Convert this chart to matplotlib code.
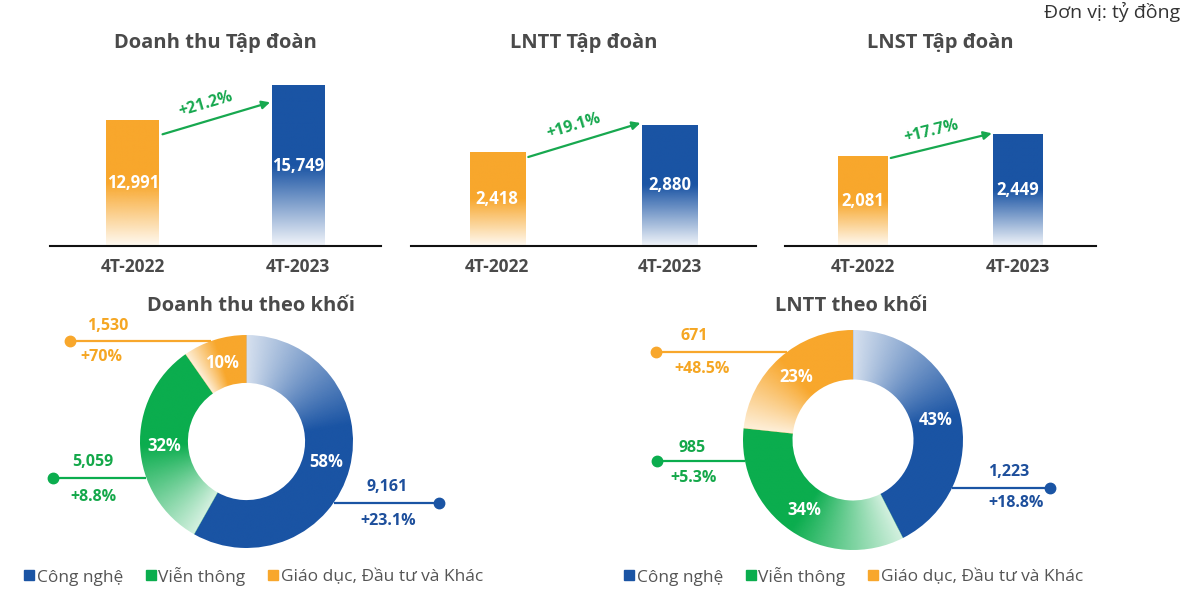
import numpy as np
import matplotlib
matplotlib.use("Agg")
import matplotlib.pyplot as plt
from matplotlib.colors import to_rgb
from matplotlib.lines import Line2D

plt.rcParams['font.family'] = ['Open Sans', 'DejaVu Sans']

# ---------------- data ----------------
periods = ["4T-2022", "4T-2023"]
bar_titles = ["Doanh thu Tập đoàn", "LNTT Tập đoàn", "LNST Tập đoàn"]
revenue = [12991, 15749]
pbt = [2418, 2880]
pat = [2081, 2449]
growth_total = ["+21.2%", "+19.1%", "+17.7%"]

segments = ["Công nghệ", "Viễn thông", "Giáo dục, Đầu tư và Khác"]
rev_seg_values = [9161, 5059, 1530]
rev_seg_pct = [58, 32, 10]
rev_seg_growth = ["+23.1%", "+8.8%", "+70%"]
pbt_seg_values = [1223, 985, 671]
pbt_seg_pct = [43, 34, 23]
pbt_seg_growth = ["+18.8%", "+5.3%", "+48.5%"]
donut_titles = ["Doanh thu theo khối", "LNTT theo khối"]
unit_label = "Đơn vị: tỷ đồng"

# ---------------- style ----------------
ORANGE = "#f8a72c"
BLUE = "#1a54a4"
GREEN = "#0bad4e"
ARROW_GREEN = "#17a84f"
TITLE = "#4a4a4a"
seg_colors = [BLUE, GREEN, ORANGE]
seg_text_colors = ["#1d4f9c", "#14a84a", "#f5a623"]

W, H = 1182, 590
fig = plt.figure(figsize=(W / 100, H / 100), dpi=100)


def box(x0, y0, x1, y1):
    return [x0 / W, 1 - y1 / H, (x1 - x0) / W, (y1 - y0) / H]


def grad_bar(ax, rect, color, ybottom):
    x, w, top = rect.get_x(), rect.get_width(), rect.get_height()
    n = 256
    t = np.linspace(0, 1, n)
    alpha = np.clip(0.06 + t / 0.5 * 0.94, 0, 1)
    rgba = np.zeros((n, 2, 4))
    rgba[..., :3] = to_rgb(color)
    rgba[..., 3] = alpha[:, None]
    im = ax.imshow(rgba, extent=[x, x + w, ybottom, top], origin="lower",
                   aspect="auto", interpolation="bilinear", zorder=2)
    im.set_clip_path(rect)
    rect.set_facecolor("none")


# ---------------- bar charts ----------------
bar_series = [revenue, pbt, pat]
bar_boxes = [(50, 60, 381, 246), (411, 60, 756, 246), (785, 60, 1096, 246)]
bar_ylims = [(3084, 17743), (809.5, 3992), (554, 3710)]
arrow_offsets_px = [(14, 17), (5, -2), (2, -1)]
bw = 0.32

for i in range(3):
    b = bar_boxes[i]
    ax = fig.add_axes(box(*b))
    vals = bar_series[i]
    xs = np.arange(len(vals))
    rects = ax.bar(xs, vals, width=bw, color="none", zorder=2)
    ax.set_xlim(-0.5, 1.5)
    ax.set_ylim(*bar_ylims[i])
    for r, c in zip(rects, [ORANGE, BLUE]):
        grad_bar(ax, r, c, bar_ylims[i][0])
    ax.set_xlim(-0.5, 1.5)
    ax.set_ylim(*bar_ylims[i])
    for s in ["top", "left", "right"]:
        ax.spines[s].set_visible(False)
    ax.spines["bottom"].set_linewidth(1.5)
    ax.spines["bottom"].set_color("#111111")
    ax.set_yticks([])
    ax.set_xticks(xs)
    ax.set_xticklabels(periods, fontsize=12.5, fontweight="bold", color=TITLE)
    ax.tick_params(axis="x", length=0, pad=9)
    for x, v in zip(xs, vals):
        ax.text(x, (v + bar_ylims[i][0]) / 2, f"{v:,}", ha="center", va="center",
                color="white", fontsize=12, fontweight="bold", zorder=4)
    ax.patch.set_alpha(0)
    fig.text(((b[0] + b[2]) / 2) / W, 1 - 43 / H, bar_titles[i], ha="center",
             va="center", fontsize=14.5, fontweight="bold", color=TITLE)
    # growth arrow
    tr = ax.transData
    x0, x1 = 0.18, 0.83
    p0 = tr.transform((x0, vals[0]))
    p1 = tr.transform((x1, vals[1]))
    p0[1] -= arrow_offsets_px[i][0]
    p1[1] -= arrow_offsets_px[i][1]
    d0 = tr.inverted().transform(p0)
    d1 = tr.inverted().transform(p1)
    ax.annotate("", xy=d1, xytext=d0,
                arrowprops=dict(arrowstyle="-|>", color=ARROW_GREEN, lw=1.6,
                                mutation_scale=12, shrinkA=0, shrinkB=0))
    ang = np.degrees(np.arctan2(p1[1] - p0[1], p1[0] - p0[0]))
    mid = (p0 + p1) / 2
    nrm = np.array([-np.sin(np.radians(ang)), np.cos(np.radians(ang))])
    tpos = mid + nrm * 15 + np.array([-6, 0])
    ax.text(*tr.inverted().transform(tpos), growth_total[i], rotation=ang,
            rotation_mode="anchor", ha="center", va="center", color=ARROW_GREEN,
            fontsize=11.5, fontweight="bold")

fig.text(1180 / W, 1 - 12 / H, unit_label, ha="right", va="center",
         fontsize=14, color="#333333")


# ---------------- donuts ----------------
def grad_wedges(ax, wedges, colors, R):
    n = 500
    g = np.linspace(-R, R, n)
    X, Y = np.meshgrid(g, g)
    ang = np.degrees(np.arctan2(Y, X)) % 360
    for w, c in zip(wedges, colors):
        span = min(0.5 * (w.theta2 - w.theta1), 80.0)
        into = (w.theta2 - ang) % 360
        t = np.clip(into / span, 0, 1)
        rgba = np.zeros((n, n, 4))
        rgba[..., :3] = to_rgb(c)
        rgba[..., 3] = 0.18 + 0.82 * t
        im = ax.imshow(rgba, extent=[-R, R, -R, R], origin="lower",
                       interpolation="bilinear", zorder=2)
        im.set_clip_path(w)
        w.set_facecolor("none")
        w.set_edgecolor("none")


donut_specs = [
    dict(center=(246.5, 441.5), R=1.065, values=rev_seg_values, pct=rev_seg_pct,
         growth=rev_seg_growth, title=donut_titles[0], title_x=251,
         dots=[(1.928, -0.612), (-1.932, -0.362), (-1.765, 1.005)],
         vpos=[(1.402, -0.46), (-1.535, -0.21), (-1.385, 1.155)],
         gpos=[(1.42, -0.795), (-1.535, -0.56), (-1.455, 0.84)],
         legend_x=253.5),
    dict(center=(853, 440), R=1.10, values=pbt_seg_values, pct=pbt_seg_pct,
         growth=pbt_seg_growth, title=donut_titles[1], title_x=851,
         dots=[(1.97, -0.477), (-1.957, -0.21), (-1.973, 0.877)],
         vpos=[(1.558, -0.325), (-1.605, -0.075), (-1.59, 1.04)],
         gpos=[(1.63, -0.63), (-1.597, -0.375), (-1.51, 0.71)],
         legend_x=853.5),
]

for sp in donut_specs:
    cx, cy = sp["center"]
    R = sp["R"]
    ax = fig.add_axes(box(cx - 150, cy - 150, cx + 150, cy + 150))
    ax.set_xlim(-1.5, 1.5)
    ax.set_ylim(-1.5, 1.5)
    ax.set_aspect("equal")
    ax.axis("off")
    wedges, _ = ax.pie(sp["values"], radius=R, startangle=90, counterclock=False,
                       colors=seg_colors, wedgeprops=dict(width=R * 0.45, linewidth=0))
    grad_wedges(ax, wedges, seg_colors, R)
    ax.set_xlim(-1.5, 1.5)
    ax.set_ylim(-1.5, 1.5)
    rmid = R * (1 - 0.45 / 2)
    for w, p in zip(wedges, sp["pct"]):
        a = np.radians((w.theta1 + w.theta2) / 2)
        ax.text(rmid * np.cos(a), rmid * np.sin(a), f"{p}%", ha="center", va="center",
                color="white", fontsize=12, fontweight="bold", zorder=5)
    for k in range(3):
        dx, dy = sp["dots"][k]
        ex = np.sign(dx) * np.sqrt(max(R ** 2 - dy ** 2, 0))
        ax.plot([dx, ex], [dy, dy], color=seg_colors[k], lw=1.6, zorder=1,
                clip_on=False, solid_capstyle="butt")
        ax.plot([dx], [dy], "o", color=seg_colors[k], ms=7.5, zorder=3, clip_on=False)
        ax.text(*sp["vpos"][k], f"{sp['values'][k]:,}", ha="center", va="center",
                color=seg_text_colors[k], fontsize=11.5, fontweight="bold")
        ax.text(*sp["gpos"][k], sp["growth"][k], ha="center", va="center",
                color=seg_text_colors[k], fontsize=11.5, fontweight="bold")
    fig.text(sp["title_x"] / W, 1 - 306 / H, sp["title"], ha="center", va="center",
             fontsize=14.5, fontweight="bold", color=TITLE)
    handles = [Line2D([], [], marker="s", ls="none", color=c, ms=7) for c in seg_colors]
    fig.legend(handles, segments, loc="center", ncol=3, frameon=False,
               bbox_to_anchor=(sp["legend_x"] / W, 1 - 576 / H),
               fontsize=12.5, labelcolor="#555555", handlelength=0.6,
               handletextpad=0.15, columnspacing=1.3, borderaxespad=0)

fig.savefig("out.png", dpi=100)
